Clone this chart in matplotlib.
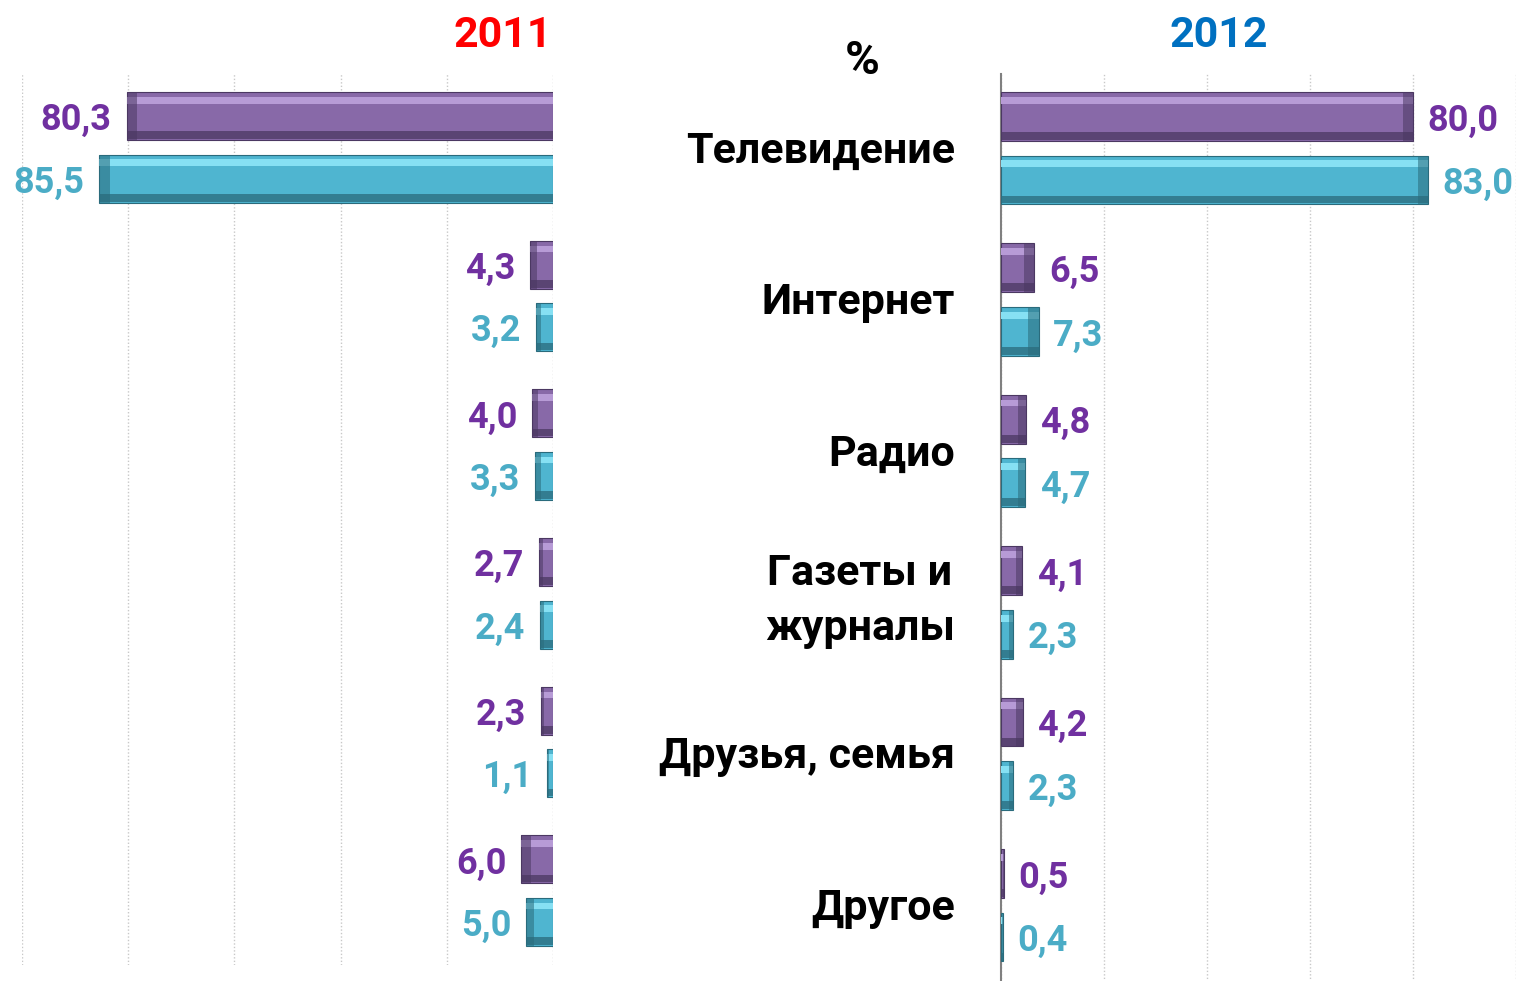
import numpy as np
import matplotlib
matplotlib.use('Agg')
import matplotlib.pyplot as plt
from matplotlib.transforms import blended_transform_factory

plt.rcParams['font.family'] = ['Roboto', 'DejaVu Sans']

categories = ['Телевидение', 'Интернет', 'Радио', 'Газеты и\nжурналы', 'Друзья, семья', 'Другое']
val_2011_a = [80.3, 4.3, 4.0, 2.7, 2.3, 6.0]   # purple series
val_2011_b = [85.5, 3.2, 3.3, 2.4, 1.1, 5.0]   # cyan series
val_2012_a = [80.0, 6.5, 4.8, 4.1, 4.2, 0.5]
val_2012_b = [83.0, 7.3, 4.7, 2.3, 2.3, 0.4]
years = ['2011', '2012']

PURPLE = dict(face='#8869a8', light='#b79bd6', dark='#4b3862', label='#7030a0')
CYAN = dict(face='#4fb5d0', light='#86e0f3', dark='#2a6b7c', label='#4bacc6')


def fmt(v):
    return f'{v:.1f}'.replace('.', ',')


def bevel_bars(ax, y, vals, h, col):
    """Draw bars with a simple bevel look: body, top highlight, bottom and end shade."""
    vals = np.asarray(vals)
    ax.barh(y, vals, height=h, color=col['face'], edgecolor=col['dark'], linewidth=0.8, zorder=3)
    # top highlight band
    ax.barh(y - h * 0.33, vals, height=h * 0.14, color=col['light'], linewidth=0, zorder=4)
    # bottom shade band
    ax.barh(y + h * 0.40, vals, height=h * 0.16, color=col['dark'], alpha=0.75, linewidth=0, zorder=4)
    # shaded end cap at the value end
    cap = np.minimum(2.0, vals * 0.3)
    ax.barh(y, cap, left=vals - cap, height=h, color=col['dark'], alpha=0.55, linewidth=0, zorder=5)


fig = plt.figure(figsize=(15.17, 9.81), dpi=100)
axL = fig.add_axes([22 / 1517, 1 - 965 / 981, 531 / 1517, 892 / 981])
axR = fig.add_axes([1001 / 1517, -6 / 981, 515 / 1517, 913 / 981])

y = np.arange(len(categories))
h = 0.323
off = 0.21

for ax, va, vb, side in [(axL, val_2011_a, val_2011_b, 'L'), (axR, val_2012_a, val_2012_b, 'R')]:
    bevel_bars(ax, y - off, va, h, PURPLE)
    bevel_bars(ax, y + off, vb, h, CYAN)
    ax.set_xlim(0, 100)
    ax.set_xticks([0, 20, 40, 60, 80, 100])
    ax.grid(axis='x', color='#c8c8c8', linestyle=(0, (1, 1.5)), linewidth=1.0, zorder=0)
    ax.set_axisbelow(True)
    for s in ax.spines.values():
        s.set_visible(False)
    ax.tick_params(length=0, labelbottom=False, labelleft=False)
    ha = 'right' if side == 'L' else 'left'
    for yi, v in zip(y - off, va):
        ax.text(v + 2.8, yi, fmt(v), ha=ha, va='center_baseline', fontsize=26, fontweight='bold',
                color=PURPLE['label'])
    for yi, v in zip(y + off, vb):
        ax.text(v + 2.8, yi, fmt(v), ha=ha, va='center_baseline', fontsize=26, fontweight='bold',
                color=CYAN['label'])

axL.set_ylim(len(categories) - 0.5, -0.5)
axL.invert_xaxis()
axR.set_ylim(len(categories) - 0.5 + 0.04, -0.49)
axR.spines['left'].set_visible(True)
axR.spines['left'].set_color('#808080')
axR.spines['left'].set_linewidth(1.5)

# category labels in the middle, aligned with the right panel's rows
trans = blended_transform_factory(fig.transFigure, axR.transData)
for yi, name in zip(y, categories):
    v_al = 'center' if '\n' in name else 'center_baseline'
    axR.text(955 / 1517, yi - 0.01, name, transform=trans, ha='right', va=v_al,
             multialignment='center', fontsize=31, fontweight='bold', color='black',
             linespacing=1.45, clip_on=False)

fig.text(503 / 1517, 1 - 31 / 981, years[0], ha='center', va='center_baseline', fontsize=31,
         fontweight='bold', color='#ff0000')
fig.text(1219 / 1517, 1 - 31 / 981, years[1], ha='center', va='center_baseline', fontsize=31,
         fontweight='bold', color='#0070c0')
fig.text(862 / 1517, 1 - 57 / 981, '%', ha='center', va='center_baseline', fontsize=34,
         fontweight='bold', color='black')

fig.savefig('out.png', dpi=100)
